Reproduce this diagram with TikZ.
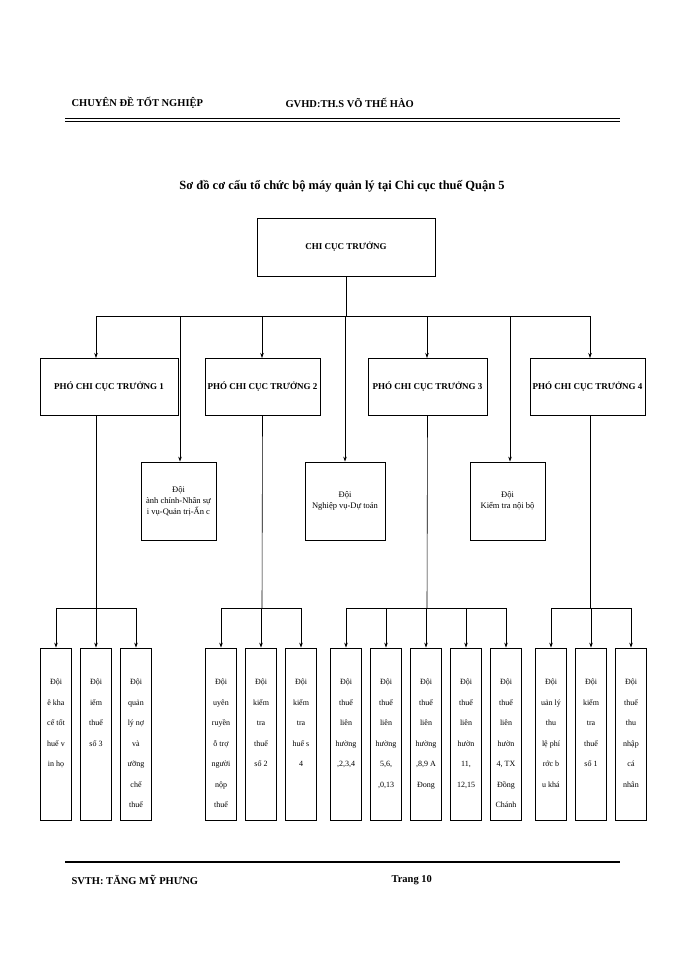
\documentclass[tikz,border=0pt]{standalone}
\usepackage{fontspec}
\setmainfont{Liberation Serif}
\usetikzlibrary{arrows.meta}
\begin{document}
\begin{tikzpicture}[x=1pt,y=-1pt,
 bx/.style={draw,line width=0.8pt,inner sep=0pt},
 hd/.style={font=\bfseries\fontsize{9}{11}\selectfont},
 hb/.style={font=\bfseries\fontsize{10.5}{12}\selectfont},
 sm/.style={font=\fontsize{8.5}{11}\selectfont,align=center},
 ar/.style={-{Stealth[length=5pt,width=3.5pt]},line width=0.6pt},
 ln/.style={line width=0.6pt}]
\useasboundingbox (0,0) rectangle (700,960);
% header
\node[hb,anchor=west] (h1) at (68,103) {CHUYÊN ĐỀ TỐT NGHIỆP};
\node[hb,anchor=west] (h2) at (282,103) {GVHD:TH.S VÕ THẾ HÀO};
\draw[line width=0.6pt] (65,118) -- (620,118);
\draw[line width=1.6pt] (65,121.5) -- (620,121.5);
\node[font=\bfseries\fontsize{12.5}{14}\selectfont] (title) at (342,186) {Sơ đồ cơ cấu tổ chức bộ máy quản lý tại Chi cục thuế Quận 5};
% top
\node[bx,minimum width=178,minimum height=58,hd] (top) at (346,247) {CHI CỤC TRƯỞNG};
\coordinate (bus) at (346,316);
\draw[ln] (top.south) -- (bus);
\draw[ln] (96,316) -- (590,316);
% deputies
\node[bx,minimum width=138,minimum height=57,hd] (p1) at (109,386.5) {PHÓ CHI CỤC TRƯỞNG 1};
\node[bx,minimum width=115,minimum height=57,hd] (p2) at (262.5,386.5) {PHÓ CHI CỤC TRƯỞNG 2};
\node[bx,minimum width=119,minimum height=57,hd] (p3) at (427.5,386.5) {PHÓ CHI CỤC TRƯỞNG 3};
\node[bx,minimum width=115,minimum height=57,hd] (p4) at (587.5,386.5) {PHÓ CHI CỤC TRƯỞNG 4};
\draw[ar] (96,316) -- (96,358);
\draw[ar] (262,316) -- (262,358);
\draw[ar] (427,316) -- (427,358);
\draw[ar] (590,316) -- (590,358);
% teams
\node[bx,minimum width=75,minimum height=78,sm] (d1) at (178.5,501) {Đội\\ành chính-Nhân sự\\i vụ-Quản trị-Ấn c};
\node[bx,minimum width=80,minimum height=78,sm] (d2) at (345,501) {Đội\\Nghiệp vụ-Dự toán};
\node[bx,minimum width=75,minimum height=78,sm] (d3) at (507.5,501) {Đội\\Kiểm tra nội bộ};
\draw[ar] (180,316) -- (d1.north -| 180,0);
\draw[ar] (345,316) -- (d2.north);
\draw[ar] (510,316) -- (d3.north -| 510,0);
% bottom boxes
\foreach \n/\x/\t in {
 b1/56/{Đội\\ê kha\\cế tốt\\huế v\\in họ},
 b2/96/{Đội\\iểm\\thuế\\số 3},
 b3/136/{Đội\\quản\\lý nợ\\và\\ưỡng\\chế\\thuế},
 b4/221/{Đội\\uyên\\ruyền\\ỗ trợ\\người\\nộp\\thuế},
 b5/261/{Đội\\kiểm\\tra\\thuế\\số 2},
 b6/301/{Đội\\kiểm\\tra\\huế s\\4},
 b7/346/{Đội\\thuế\\liên\\hường\\,2,3,4},
 b8/386/{Đội\\thuế\\liên\\hường\\5,6,\\,0,13},
 b9/426/{Đội\\thuế\\liên\\hường\\,8,9 A\\Đong},
 b10/466/{Đội\\thuế\\liên\\hườn\\11,\\12,15},
 b11/506/{Đội\\thuế\\liên\\hườn\\4, TX\\Đồng\\Chánh},
 b12/551/{Đội\\uản lý\\thu\\lệ phí\\rớc b\\u khá},
 b13/591/{Đội\\kiểm\\tra\\thuế\\số 1},
 b14/631/{Đội\\thuế\\thu\\nhập\\cá\\nhân}}
 {\node[bx,minimum width=31,minimum height=172] (\n) at (\x,734) {};
  \node[sm,font=\fontsize{8}{20.5}\selectfont,anchor=north] at (\n.north) [yshift=-28pt] {\t};}
% group buses
\draw[ln] (p1.south -| 96,0) -- (96,608); \draw[ln] (b1.north |- 0,608) -- (b3.north |- 0,608);
\draw[ln] (p2.south) -- (262,608); \draw[ln] (b4.north |- 0,608) -- (b6.north |- 0,608);
\draw[ln] (p3.south) -- (427,608); \draw[ln] (b7.north |- 0,608) -- (b11.north |- 0,608);
\draw[ln] (p4.south -| 590,0) -- (590,608); \draw[ln] (b12.north |- 0,608) -- (b14.north |- 0,608);
\foreach \n in {b1,b2,b3,b4,b5,b6,b7,b8,b9,b10,b11,b12,b13,b14}
 \draw[ar] (\n.north |- 0,608) -- (\n.north);
% footer
\draw[line width=1.6pt] (65,862) -- (620,862);
\node[hb,anchor=west] (f1) at (68,880) {SVTH: TĂNG MỸ PHƯNG};
\node[hb,anchor=west] (f2) at (388,880) {Trang 10};
\end{tikzpicture}
\end{document}
